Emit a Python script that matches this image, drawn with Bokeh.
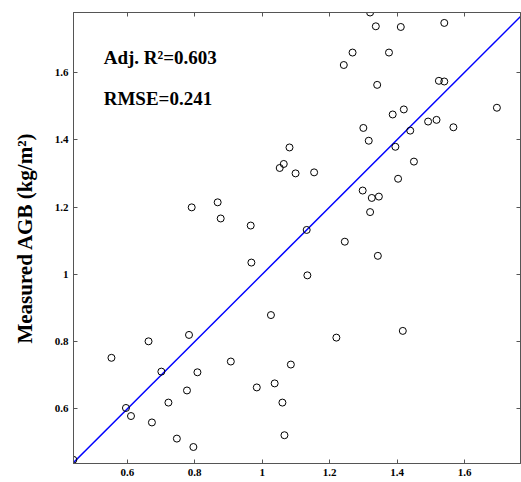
from bokeh.plotting import figure
from bokeh.models import LinearAxis, FixedTicker, Label, Range1d
from bokeh.embed import file_html
from bokeh.resources import INLINE

# Estimated vs. measured aboveground biomass (kg/m^2)
estimated = [
    0.791, 0.868, 0.877, 0.966, 1.320, 1.337, 1.411, 1.540, 1.268, 1.376,
    1.242, 1.524, 1.540, 1.341, 1.696, 1.420, 1.387, 1.492, 1.517, 1.567,
    1.300, 1.439, 1.316, 1.081, 1.395, 1.052, 1.064, 1.099, 1.154, 1.450,
    1.403, 1.298, 1.325, 1.346, 1.320, 1.132, 1.245, 1.343, 1.134, 1.026,
    1.417, 1.220, 1.085, 1.037, 1.060, 1.066, 0.968, 0.984, 0.663, 0.553,
    0.783, 0.701, 0.808, 0.907, 0.777, 0.722, 0.596, 0.611, 0.673, 0.747,
    0.796, 0.440,
]
measured = [
    1.199, 1.214, 1.166, 1.145, 1.778, 1.737, 1.735, 1.747, 1.659, 1.659,
    1.622, 1.575, 1.573, 1.563, 1.495, 1.490, 1.475, 1.454, 1.459, 1.437,
    1.435, 1.427, 1.397, 1.377, 1.379, 1.316, 1.328, 1.300, 1.303, 1.335,
    1.284, 1.249, 1.227, 1.231, 1.185, 1.132, 1.097, 1.055, 0.997, 0.879,
    0.832, 0.812, 0.732, 0.676, 0.619, 0.522, 1.035, 0.664, 0.801, 0.752,
    0.820, 0.711, 0.709, 0.741, 0.655, 0.619, 0.603, 0.579, 0.560, 0.512,
    0.487, 0.449,
]

# 1:1 reference line
line_x = [0.44, 1.78]
line_y = [0.44, 1.78]

tick_values = [0.6, 0.8, 1.0, 1.2, 1.4, 1.6]
tick_labels = ["0.6", "0.8", "1", "1.2", "1.4", "1.6"]

stats_r2 = "Adj. R\u00b2=0.603"
stats_rmse = "RMSE=0.241"

FONT = "Liberation Serif"
AXIS_COLOR = "#555555"

p = figure(
    width=521, height=482,
    x_range=Range1d(0.4405, 1.766), y_range=Range1d(0.438, 1.778),
    output_backend="svg", toolbar_location=None,
    min_border_left=73, min_border_right=1, min_border_top=12, min_border_bottom=19,
    background_fill_color="white", border_fill_color="white",
)
p.grid.visible = False
p.outline_line_color = AXIS_COLOR
p.outline_line_width = 1

overrides = {v: s for v, s in zip(tick_values, tick_labels)}

def style_axis(ax, show_labels):
    ax.ticker = FixedTicker(ticks=tick_values)
    ax.minor_tick_line_color = None
    ax.major_tick_in = 4
    ax.major_tick_out = 0
    ax.axis_line_color = AXIS_COLOR
    ax.major_tick_line_color = AXIS_COLOR
    if show_labels:
        ax.major_label_overrides = overrides
        ax.major_label_text_font = FONT
        ax.major_label_text_font_style = "bold"
        ax.major_label_text_font_size = "11px"
        ax.major_label_text_color = "black"
        ax.major_label_standoff = 5
    else:
        # mirrored tick marks only, no labels
        ax.major_label_text_color = None
        ax.major_label_text_font_size = "1px"
        ax.major_label_standoff = 0

style_axis(p.xaxis[0], True)
style_axis(p.yaxis[0], True)

p.yaxis[0].axis_label = "Measured AGB (kg/m\u00b2)"
p.yaxis[0].axis_label_text_font = FONT
p.yaxis[0].axis_label_text_font_style = "bold"
p.yaxis[0].axis_label_text_font_size = "21px"
p.yaxis[0].axis_label_text_color = "black"
p.yaxis[0].axis_label_standoff = 15

top_axis = LinearAxis()
right_axis = LinearAxis()
style_axis(top_axis, False)
style_axis(right_axis, False)
p.add_layout(top_axis, "above")
p.add_layout(right_axis, "right")

p.line(line_x, line_y, line_color="#0000ff", line_width=1.5)
p.scatter(estimated, measured, marker="circle", size=7,
          fill_color=None, line_color="black", line_width=1)

for txt, y in [(stats_r2, 1.644), (stats_rmse, 1.522)]:
    p.add_layout(Label(x=0.530, y=y, text=txt, text_font=FONT,
                       text_font_style="bold", text_font_size="19px",
                       text_baseline="middle", text_color="black"))

open("out.html", "w").write(file_html(p, INLINE))
